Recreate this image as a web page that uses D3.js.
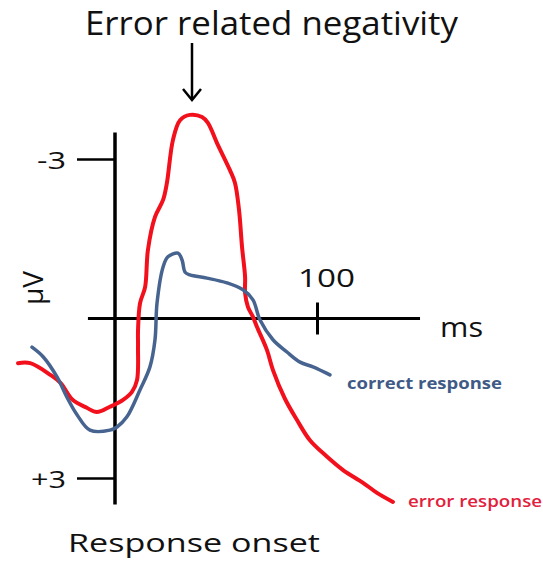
<!doctype html>
<html>
<head>
<meta charset="utf-8">
<script src="https://cdn.jsdelivr.net/npm/d3@7"></script>
<style>
  body { margin: 0; background: #fff; }
  text { font-family: "Open Sans", sans-serif; }
</style>
</head>
<body>
<svg id="chart" width="543" height="561"></svg>
<script>
// error response (red), ms vs µV (negative up)
const errMs = [-48, -42, -32, -27, -21, -14, -9, -2.5, 4, 8.4, 10.9, 11.4, 11.4, 12.4, 14.9, 16.3, 19.8, 23.8, 25.7, 28.7, 32.2, 37.1, 43.1, 46, 50.5, 56.9, 59.4, 61.4, 62.9, 64.4, 64.4, 65.8, 68.3, 70.3, 75.2, 78.2, 84, 90.1, 96.5, 105, 112.9, 122.8, 129.7, 137.6];
const errUv = [0.84, 0.84, 1.06, 1.21, 1.53, 1.68, 1.76, 1.66, 1.53, 1.38, 1.16, 0.54, 0.22, -0.29, -0.59, -1.29, -1.91, -2.23, -2.55, -3.36, -3.73, -3.83, -3.79, -3.68, -3.3, -2.79, -2.55, -2.04, -1.34, -0.78, -0.48, -0.22, -0.03, 0.16, 0.59, 0.97, 1.5, 1.91, 2.29, 2.6, 2.85, 3.09, 3.28, 3.45];
// correct response (blue)
const corMs = [-41.1, -35.6, -28.7, -23.8, -18.8, -12.4, -2.5, 1, 5.9, 12.4, 17.3, 19.8, 20.8, 23.8, 26.2, 31.2, 33.2, 34.7, 37.1, 45.5, 55.4, 63.4, 68.3, 71.8, 78.2, 85.1, 91.6, 98, 106.4];
const corUv = [0.54, 0.72, 1.1, 1.48, 1.81, 2.1, 2.1, 2.04, 1.85, 1.34, 0.91, 0.4, -0.29, -0.97, -1.16, -1.23, -1.1, -0.87, -0.82, -0.76, -0.67, -0.54, -0.35, 0.03, 0.4, 0.63, 0.82, 0.91, 1.06];

const yTicks = [-3, 3];
const yTickLabels = ["-3", "+3"];
const xTicks = [100];

const svg = d3.select("#chart");

const x = d3.scaleLinear().domain([0, 100]).range([115, 317]);
const y = d3.scaleLinear().domain([-3, 3]).range([159, 478]);

const red = "#f2101c", blue = "#46648f";

// axes lines
svg.append("line")
    .attr("x1", x(0)).attr("x2", x(0))
    .attr("y1", y(-3.5)).attr("y2", y(3.5))
    .attr("stroke", "#000").attr("stroke-width", 3.5);
svg.append("line")
    .attr("x1", x(-13.4)).attr("x2", x(151))
    .attr("y1", y(0)).attr("y2", y(0))
    .attr("stroke", "#000").attr("stroke-width", 3);

// y ticks
const yAxis = svg.append("g").attr("transform", `translate(${x(0)},0)`)
    .call(d3.axisLeft(y).tickValues(yTicks).tickSize(38).tickPadding(11)
        .tickFormat((d, i) => yTickLabels[i]));
yAxis.select(".domain").remove();
yAxis.selectAll(".tick line").attr("stroke", "#000").attr("stroke-width", 2.5);
yAxis.selectAll(".tick text").attr("font-size", 24).attr("fill", "#111")
    .attr("font-family", "Open Sans, sans-serif")
    .attr("dy", "0.38em")
    .attr("textLength", (d, i) => i === 0 ? 29 : 35)
    .attr("lengthAdjust", "spacingAndGlyphs");

// x tick
const xAxis = svg.append("g").attr("transform", `translate(0,${y(0)})`)
    .call(d3.axisBottom(x).tickValues(xTicks).tickSize(16).tickFormat(""));
xAxis.select(".domain").remove();
xAxis.selectAll(".tick line").attr("y1", -16).attr("stroke", "#000").attr("stroke-width", 3);
svg.selectAll(".x-lab").data(xTicks).join("text")
    .attr("x", d => x(d) - 19).attr("y", 287)
    .attr("font-size", 26).attr("fill", "#111")
    .attr("textLength", 57).attr("lengthAdjust", "spacingAndGlyphs").text(d => d);

// curves
const line = d3.line().curve(d3.curveCatmullRom.alpha(0.5))
    .x(d => x(d[0])).y(d => y(d[1]));
svg.append("path").datum(errMs.map((m, i) => [m, errUv[i]]))
    .attr("d", line).attr("fill", "none").attr("stroke", red)
    .attr("stroke-width", 4).attr("stroke-linejoin", "round").attr("stroke-linecap", "round");
svg.append("path").datum(corMs.map((m, i) => [m, corUv[i]]))
    .attr("d", line).attr("fill", "none").attr("stroke", blue)
    .attr("stroke-width", 3.5).attr("stroke-linejoin", "round").attr("stroke-linecap", "round");

// labels
svg.append("text").attr("x", 85).attr("y", 35)
    .attr("font-size", 32).attr("fill", "#111")
    .attr("textLength", 373).attr("lengthAdjust", "spacingAndGlyphs")
    .text("Error related negativity");

const arrowX = 192;
svg.append("line").attr("x1", arrowX).attr("x2", arrowX).attr("y1", 43).attr("y2", 99)
    .attr("stroke", "#000").attr("stroke-width", 2.5);
svg.append("path").attr("d", `M${arrowX - 9},${89} L${arrowX},${100} L${arrowX + 9},${89}`)
    .attr("fill", "none").attr("stroke", "#000").attr("stroke-width", 2.5);

svg.append("text").attr("transform", "translate(43,288) rotate(-90)")
    .attr("text-anchor", "middle").attr("font-size", 28).attr("fill", "#111").text("µV");

svg.append("text").attr("x", 440).attr("y", 337).attr("font-size", 28).attr("fill", "#111")
    .attr("textLength", 43).attr("lengthAdjust", "spacingAndGlyphs").text("ms");

svg.append("text").attr("x", 347).attr("y", 389).attr("font-size", 16)
    .attr("font-weight", 700).attr("fill", "#3f5a86")
    .attr("textLength", 155).attr("lengthAdjust", "spacingAndGlyphs").text("correct response");
svg.append("text").attr("x", 408).attr("y", 507).attr("font-size", 16)
    .attr("font-weight", 600).attr("fill", "#e2203c")
    .attr("textLength", 134).attr("lengthAdjust", "spacingAndGlyphs").text("error response");

svg.append("text").attr("x", 68).attr("y", 552).attr("font-size", 26)
    .attr("fill", "#111")
    .attr("textLength", 252).attr("lengthAdjust", "spacingAndGlyphs").text("Response onset");
</script>
</body>
</html>
